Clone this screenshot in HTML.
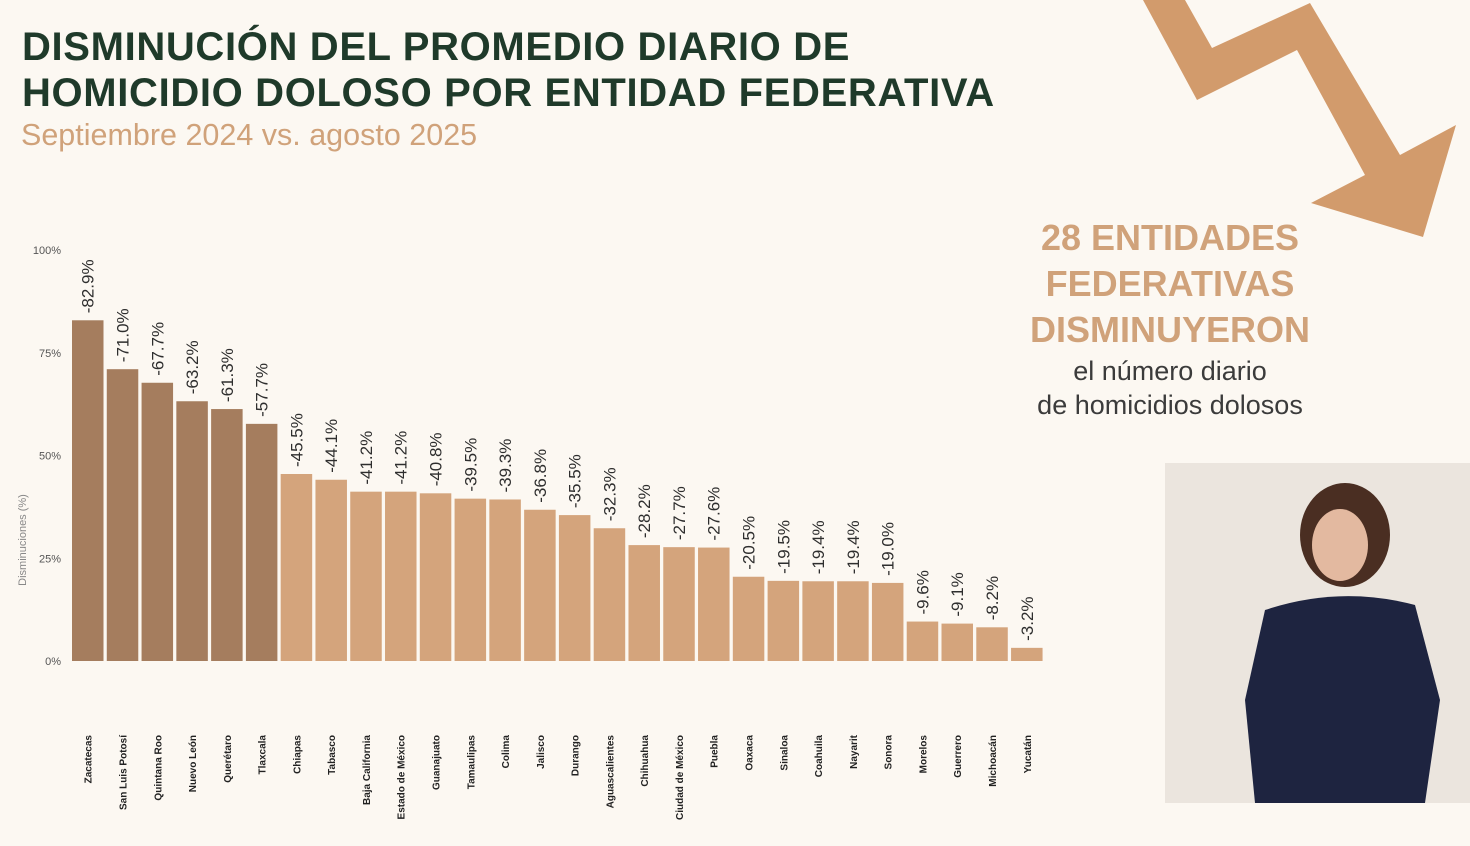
<!DOCTYPE html>
<html><head><meta charset="utf-8"><style>
body{margin:0;width:1470px;height:846px;background:#fcf8f2;overflow:hidden;position:relative;font-family:"Liberation Sans",sans-serif}
.t{position:absolute;left:22px;top:24px;font-size:40px;font-weight:900;color:#1f3a2a;line-height:46px;letter-spacing:0.65px}
.s{position:absolute;left:21px;top:118px;font-size:30.5px;color:#d0a27a}
.r{position:absolute;left:1000px;width:340px;text-align:center;color:#d0a27a;font-weight:900;font-size:36px;line-height:46px;top:215px}
.r2{position:absolute;left:1000px;width:340px;text-align:center;color:#3b3b3b;font-size:27px;line-height:34px;top:354px}
</style></head><body>
<div class="t">DISMINUCIÓN DEL PROMEDIO DIARIO DE<br>HOMICIDIO DOLOSO POR ENTIDAD FEDERATIVA</div>
<div class="s">Septiembre 2024 vs. agosto 2025</div>
<div class="r">28 ENTIDADES<br>FEDERATIVAS<br>DISMINUYERON</div>
<div class="r2">el número diario<br>de homicidios dolosos</div>
<svg width="1470" height="846" style="position:absolute;left:0;top:0" id="svg">
<polygon fill="#d29b6c" points="1143,0 1197,100 1297,50 1365,175 1311,203 1423,237 1456,125 1400,155 1310,3 1212,48 1185,0"/>
<g>
<rect x="1165" y="463" width="305" height="340" fill="#ebe5de"/>
<ellipse cx="1345" cy="535" rx="45" ry="52" fill="#4a2e22"/>
<ellipse cx="1340" cy="545" rx="28" ry="36" fill="#e3b9a0"/>
<path d="M1265,610 Q1340,585 1415,605 L1440,700 L1425,803 L1255,803 L1245,700 Z" fill="#1e2440"/>
</g>
<text x="-540" y="26" transform="rotate(-90)" text-anchor="middle" font-size="11" fill="#888">Disminuciones (%)</text>
<g id="ax"></g><g id="bars"></g>
</svg>
<script>
const categories=["Zacatecas","San Luis Potosí","Quintana Roo","Nuevo León","Querétaro","Tlaxcala","Chiapas","Tabasco","Baja California","Estado de México","Guanajuato","Tamaulipas","Colima","Jalisco","Durango","Aguascalientes","Chihuahua","Ciudad de México","Puebla","Oaxaca","Sinaloa","Coahuila","Nayarit","Sonora","Morelos","Guerrero","Michoacán","Yucatán"];
const values=[82.9,71.0,67.7,63.2,61.3,57.7,45.5,44.1,41.2,41.2,40.8,39.5,39.3,36.8,35.5,32.3,28.2,27.7,27.6,20.5,19.5,19.4,19.4,19.0,9.6,9.1,8.2,3.2];
const ticks=[0,25,50,75,100];
const NS="http://www.w3.org/2000/svg";
const y=v=>661-v*4.11, x=i=>72+i*34.78;
const ax=document.getElementById('ax'),bg=document.getElementById('bars');
function mk(t,a,p){const e=document.createElementNS(NS,t);for(const k in a)e.setAttribute(k,a[k]);p.appendChild(e);return e;}
ticks.forEach(t=>{const e=mk('text',{x:61,y:y(t)+4,'text-anchor':'end','font-size':11,fill:'#555'},ax);e.textContent=t+'%';

});
values.forEach((v,i)=>{
const b=mk('rect',{x:x(i),y:y(v),width:31.5,height:661-y(v),fill:i<6?'#a57d5e':'#d4a47c'},bg);


const cx=x(i)+15.7+6;
const l=mk('text',{x:cx,y:y(v)-7,transform:`rotate(-90 ${cx} ${y(v)-7})`,'font-size':17,'font-weight':'500',fill:'#2e2e2e'},bg);l.textContent='-'+v.toFixed(1)+'%';


const c=mk('text',{x:cx-2,y:735,transform:`rotate(-90 ${cx-2} 735)`,'text-anchor':'end','font-size':10,'font-weight':'bold',fill:'#222'},bg);c.textContent=categories[i];


});
</script>
</body></html>
